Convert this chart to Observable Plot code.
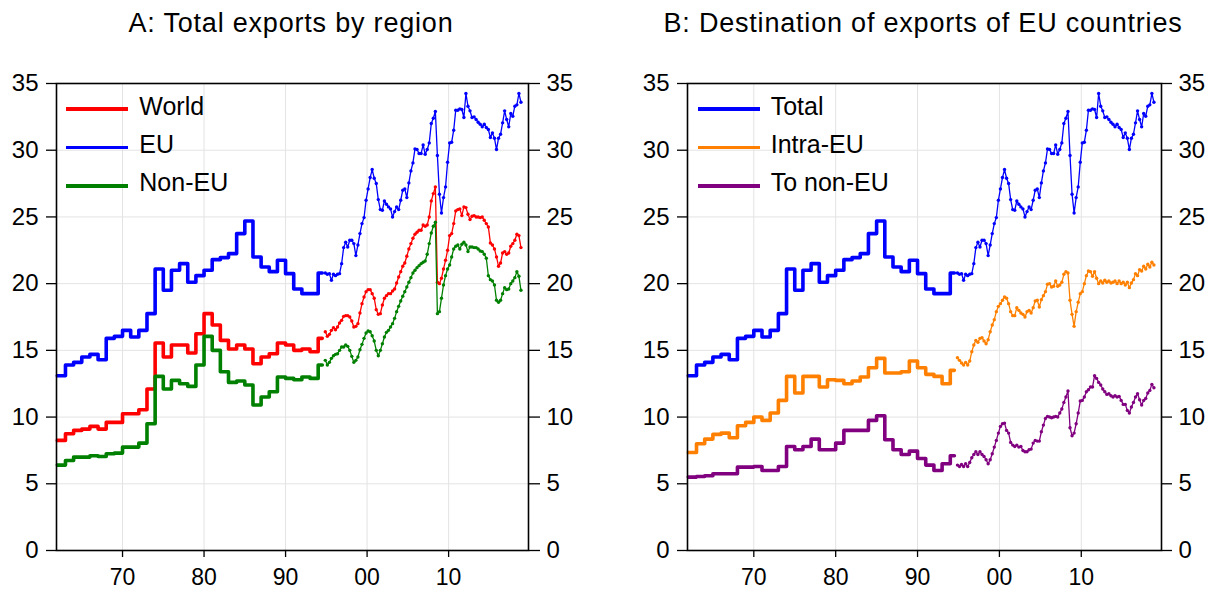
<!DOCTYPE html>
<html><head><meta charset="utf-8">
<script src="https://cdn.jsdelivr.net/npm/d3@7"></script>
<script src="https://cdn.jsdelivr.net/npm/@observablehq/plot@0.6"></script>
<style>
body{margin:0;background:#fff;font-family:"Liberation Sans",Arial,sans-serif;}
#wrap{position:relative;width:1209px;height:591px;overflow:hidden;background:#fff;}
.title{position:absolute;top:10px;width:600px;text-align:center;font-size:27px;letter-spacing:0.8px;line-height:27px;color:#000;white-space:nowrap;}
.leg{position:absolute;height:25px;font-size:25px;line-height:25px;color:#000;white-space:nowrap;}
.leg .sw{position:absolute;left:0;top:10.75px;width:62px;height:3.5px;}
.leg .tx{position:absolute;top:-2.9px;}
.panel{position:absolute;top:60px;}
</style></head>
<body>
<div id="wrap">
  <div class="title" style="left:-9px">A: Total exports by region</div>
  <div class="title" style="left:623px">B: Destination of exports of EU countries</div>
  <div id="pa" class="panel" style="left:0"></div>
  <div id="pb" class="panel" style="left:604px"></div>
</div>
<script>
// ---- time axes ----
const years = d3.range(1962, 1995);          // annual levels 1962..1994 (monthly step data)
const earlyEnd = 1994.5;                      // last month of the stepped series
const quarterStart = 1994.875;                // 1994Q4 (quarter midpoint), quarterly until 2018Q4
const xTicks = [1970, 1980, 1990, 2000, 2010];
const yTicks = [0, 5, 10, 15, 20, 25, 30, 35];

// ---- panel A: total exports by region (annual levels 1962-1994) ----
const worldEarly = [8.25, 8.75, 9.0, 9.1, 9.3, 9.1, 9.6, 9.6, 10.25, 10.25, 10.55, 12.1, 15.55, 14.5, 15.4, 15.4, 14.8, 16.25, 17.75, 16.9, 15.75, 15.1, 15.4, 15.1, 14.0, 14.5, 14.75, 15.55, 15.4, 15.0, 15.1, 14.9, 15.9];
const euEarly = [13.1, 13.9, 14.1, 14.5, 14.7, 14.3, 15.9, 16.05, 16.5, 16.0, 16.5, 17.75, 21.1, 19.5, 21.0, 21.5, 20.1, 20.6, 21.0, 21.8, 21.95, 22.25, 23.75, 24.7, 22.0, 21.25, 20.9, 21.75, 20.75, 19.6, 19.25, 19.25, 20.8];
const nonEuEarly = [6.4, 6.75, 7.0, 7.0, 7.1, 7.05, 7.25, 7.3, 7.75, 7.75, 8.05, 9.5, 13.05, 12.1, 12.75, 12.5, 12.3, 13.9, 16.05, 15.0, 13.4, 12.6, 12.7, 12.4, 10.9, 11.5, 11.9, 13.0, 12.9, 12.8, 13.0, 12.9, 13.9];

// ---- panel A: quarterly 1994Q4-2018Q4 ----
const worldQ = [16.4, 16.05, 16.2, 16.5, 16.7, 16.55, 16.75, 17.05, 17.25, 17.55,
  17.6, 17.6, 17.5, 17.2, 16.75, 16.8, 17.0, 17.8, 18.5, 19.0,
  19.4, 19.55, 19.55, 19.25, 18.9, 18.05, 17.7, 17.75, 18.4, 18.9,
  19.1, 19.25, 19.25, 19.45, 19.6, 20.05, 20.5, 20.9, 21.3, 21.55,
  22.05, 22.6, 23.0, 23.4, 23.7, 23.85, 24.0, 24.0, 24.4, 24.3,
  24.4, 25.0, 26.2, 26.75, 27.25, 20.1, 20.0, 20.4, 21.1, 21.75,
  22.5, 23.6, 23.75, 24.5, 25.45, 25.55, 25.6, 25.1, 25.75, 25.7,
  25.2, 24.8, 25.05, 25.1, 25.0, 25.0, 24.95, 25.0, 24.75, 24.5,
  24.25, 23.05, 22.9, 22.6, 22.0, 21.3, 21.55, 22.3, 22.4, 22.2,
  22.3, 22.8, 23.0, 23.25, 23.7, 23.6, 22.7];
const euQ = [20.8, 20.7, 20.75, 20.25, 20.7, 20.6, 20.7, 20.75, 21.5, 22.7,
  23.1, 22.75, 23.25, 23.25, 23.0, 22.1, 22.9, 23.75, 24.5, 24.95,
  26.25, 27.1, 27.95, 28.55, 27.9, 27.5, 26.3, 25.55, 25.5, 26.2,
  25.95, 25.75, 25.6, 25.0, 25.4, 25.75, 25.55, 26.25, 27.0, 27.1,
  26.45, 27.55, 28.45, 29.05, 30.1, 30.05, 29.75, 29.75, 30.4, 29.7,
  30.05, 30.55, 32.0, 32.4, 32.9, 29.6, 26.7, 25.3, 26.45, 27.25,
  29.1, 30.55, 30.6, 31.5, 33.0, 33.0, 33.1, 33.05, 32.45, 34.25,
  33.3, 32.95, 32.45, 32.5, 32.3, 32.1, 31.95, 31.75, 31.95, 31.7,
  31.55, 30.95, 31.3, 30.9, 30.05, 30.9, 31.2, 32.05, 32.95, 32.3,
  31.75, 32.75, 32.55, 33.3, 33.4, 34.25, 33.6];
const nonEuQ = [14.25, 13.9, 14.1, 14.4, 14.6, 14.7, 14.75, 15.0, 15.25, 15.25,
  15.4, 15.3, 15.0, 14.55, 14.1, 14.25, 14.5, 15.05, 15.45, 15.9,
  16.3, 16.45, 16.4, 16.1, 15.7, 15.0, 14.6, 15.0, 15.5, 16.0,
  16.35, 16.5, 16.75, 17.0, 17.4, 17.9, 18.3, 18.7, 19.05, 19.4,
  19.75, 20.1, 20.45, 20.8, 21.0, 21.2, 21.35, 21.5, 21.6, 21.7,
  22.2, 23.0, 23.8, 24.3, 24.6, 17.75, 17.9, 18.9, 19.9, 20.6,
  21.1, 21.4, 22.0, 22.6, 22.8, 22.9, 22.6, 22.95, 23.1, 22.9,
  22.4, 22.75, 22.75, 22.7, 22.7, 22.6, 22.45, 22.4, 22.2, 21.9,
  20.6, 20.3, 20.2, 19.9, 18.75, 18.6, 18.75, 19.25, 19.7, 19.55,
  19.6, 20.0, 20.2, 20.45, 20.9, 20.55, 19.5];

// ---- panel B: destination of EU exports ----
const totalEarly = euEarly, totalQ = euQ;
const intraEarly = [7.35, 8.0, 8.35, 8.7, 8.8, 8.45, 9.35, 9.6, 10.0, 9.75, 10.3, 11.25, 13.05, 11.8, 13.05, 13.05, 12.25, 12.8, 12.75, 12.5, 12.7, 13.0, 13.7, 14.4, 13.3, 13.3, 13.4, 14.2, 13.7, 13.2, 13.05, 12.5, 13.5];
const extraEarly = [5.5, 5.55, 5.6, 5.75, 5.75, 5.75, 6.25, 6.25, 6.3, 6.0, 6.0, 6.3, 7.8, 7.55, 7.8, 8.35, 7.55, 7.55, 8.05, 9.0, 9.0, 9.0, 9.75, 10.1, 8.3, 7.55, 7.2, 7.45, 6.9, 6.4, 6.0, 6.5, 7.1];
const intraQ = [14.45, 14.25, 14.05, 13.9, 14.1, 13.9, 14.2, 14.9, 15.4, 15.75,
  15.6, 15.9, 15.95, 15.7, 15.5, 15.8, 16.4, 16.9, 17.3, 17.9,
  18.3, 18.5, 18.75, 19.0, 18.9, 18.5, 17.9, 17.6, 17.6, 18.2,
  18.0, 17.8, 17.7, 17.5, 17.9, 18.0, 17.8, 18.2, 18.7, 18.75,
  18.25, 18.8, 19.1, 19.4, 19.95, 20.0, 19.75, 19.8, 20.2, 19.8,
  19.9, 20.1, 20.7, 20.9, 20.8, 18.75, 17.7, 16.8, 17.9, 18.6,
  19.25, 19.4, 20.0, 20.6, 20.95, 20.9, 20.55, 20.9, 20.4, 20.0,
  20.2, 20.05, 20.25, 20.1, 20.2, 20.05, 20.1, 20.2, 20.0, 20.2,
  20.0, 20.1, 19.9, 20.1, 19.7, 20.05, 20.3, 20.75, 20.6, 21.05,
  20.95, 21.3, 21.1, 21.45, 21.25, 21.6, 21.4];
const extraQ = [6.4, 6.3, 6.45, 6.3, 6.5, 6.3, 6.6, 6.95, 7.2, 7.4,
  7.2, 7.4, 7.2, 7.05, 6.8, 6.5, 6.8, 7.25, 7.75, 8.25,
  8.8, 9.3, 9.5, 9.55, 9.0, 8.8, 8.1, 7.9, 7.8, 7.9,
  7.75, 7.8, 7.5, 7.4, 7.4, 7.55, 7.6, 8.05, 8.25, 8.2,
  8.2, 8.9, 9.4, 9.9, 10.05, 10.0, 9.95, 10.0, 10.05, 10.0,
  10.3, 10.6, 11.1, 11.5, 11.95, 9.2, 8.6, 8.8, 9.5, 10.3,
  11.2, 11.25, 11.5, 11.9, 12.05, 12.25, 12.25, 13.1, 12.9, 12.6,
  12.4, 12.1, 11.9, 11.7, 11.75, 11.6, 11.5, 11.6, 11.5, 11.55,
  11.25, 10.95, 10.95, 10.5, 10.3, 10.75, 11.1, 11.5, 11.75, 11.3,
  10.9, 11.25, 11.4, 11.8, 12.0, 12.45, 12.2];

const seriesA = [
  {name: "World", color: "#ff0000", early: worldEarly, q: worldQ},
  {name: "EU", color: "#0000ff", early: euEarly, q: euQ},
  {name: "Non-EU", color: "#008000", early: nonEuEarly, q: nonEuQ}
];
const seriesB = [
  {name: "Total", color: "#0000ff", early: totalEarly, q: totalQ},
  {name: "Intra-EU", color: "#ff8000", early: intraEarly, q: intraQ},
  {name: "To non-EU", color: "#800080", early: extraEarly, q: extraQ}
];

const FONT = '"Liberation Sans", Arial, sans-serif';
const fmt = d => String(d % 100).padStart(2, "0");

function earlyRows(s) {
  const rows = years.map((t, i) => ({t, v: s.early[i]}));
  rows.push({t: earlyEnd, v: s.early[s.early.length - 1]});
  return rows;
}
function qRows(s) {
  return s.q.map((v, i) => ({t: quarterStart + 0.25 * i, v}));
}

function panel(series, opts) {
  const marks = [
    Plot.gridX(xTicks, {stroke: "#e3e3e3", strokeOpacity: 1, strokeWidth: 1}),
    Plot.gridY(yTicks, {stroke: "#e3e3e3", strokeOpacity: 1, strokeWidth: 1}),
    Plot.axisX(xTicks, {tickSize: 7, tickPadding: 11, tickFormat: fmt, stroke: "#000", strokeWidth: 1.3, label: null, fontSize: 23}),
    Plot.axisY(yTicks, {anchor: "left", tickSize: 10, tickPadding: 8, stroke: "#000", strokeWidth: 1.3, label: null}),
    Plot.axisY(yTicks, {anchor: "right", tickSize: opts.rTick, tickPadding: 7, stroke: "#000", strokeWidth: 1.3, label: null})
  ];
  for (const s of series) {
    marks.push(Plot.line(earlyRows(s), {x: "t", y: "v", stroke: s.color, strokeWidth: 3.6, curve: "step-after"}));
    marks.push(Plot.line(qRows(s), {x: "t", y: "v", stroke: s.color, strokeWidth: 1.3}));
    marks.push(Plot.dot(qRows(s), {x: "t", y: "v", fill: s.color, r: 1.7, stroke: null}));
  }
  marks.push(Plot.frame({stroke: "#000", strokeWidth: 1.6}));
  return Plot.plot({
    width: opts.width, height: 531,
    marginTop: 23, marginBottom: 41, marginLeft: opts.ml, marginRight: opts.mr,
    x: {domain: [1961.9, 2019.8], label: null},
    y: {domain: [0, 35], label: null},
    style: {fontFamily: FONT, fontSize: "24px", color: "#000", background: "#fff", overflow: "visible"},
    marks
  });
}

document.getElementById("pa").appendChild(panel(seriesA, {width: 604, ml: 56, mr: 76, rTick: 11}));
document.getElementById("pb").appendChild(panel(seriesB, {width: 605, ml: 83, mr: 48, rTick: 10}));

function legend(series, x, textX) {
  const wrap = document.getElementById("wrap");
  series.forEach((s, k) => {
    const y = 109 + 38.4 * k;
    const d = document.createElement("div");
    d.className = "leg";
    d.style.left = x + "px";
    d.style.top = (y - 12.5) + "px";
    d.innerHTML = `<div class="sw" style="background:${s.color}"></div><span class="tx" style="left:${textX - x}px">${s.name}</span>`;
    wrap.appendChild(d);
  });
}
legend(seriesA, 66, 139.3);
legend(seriesB, 697.7, 770.7);
</script>
</body></html>
